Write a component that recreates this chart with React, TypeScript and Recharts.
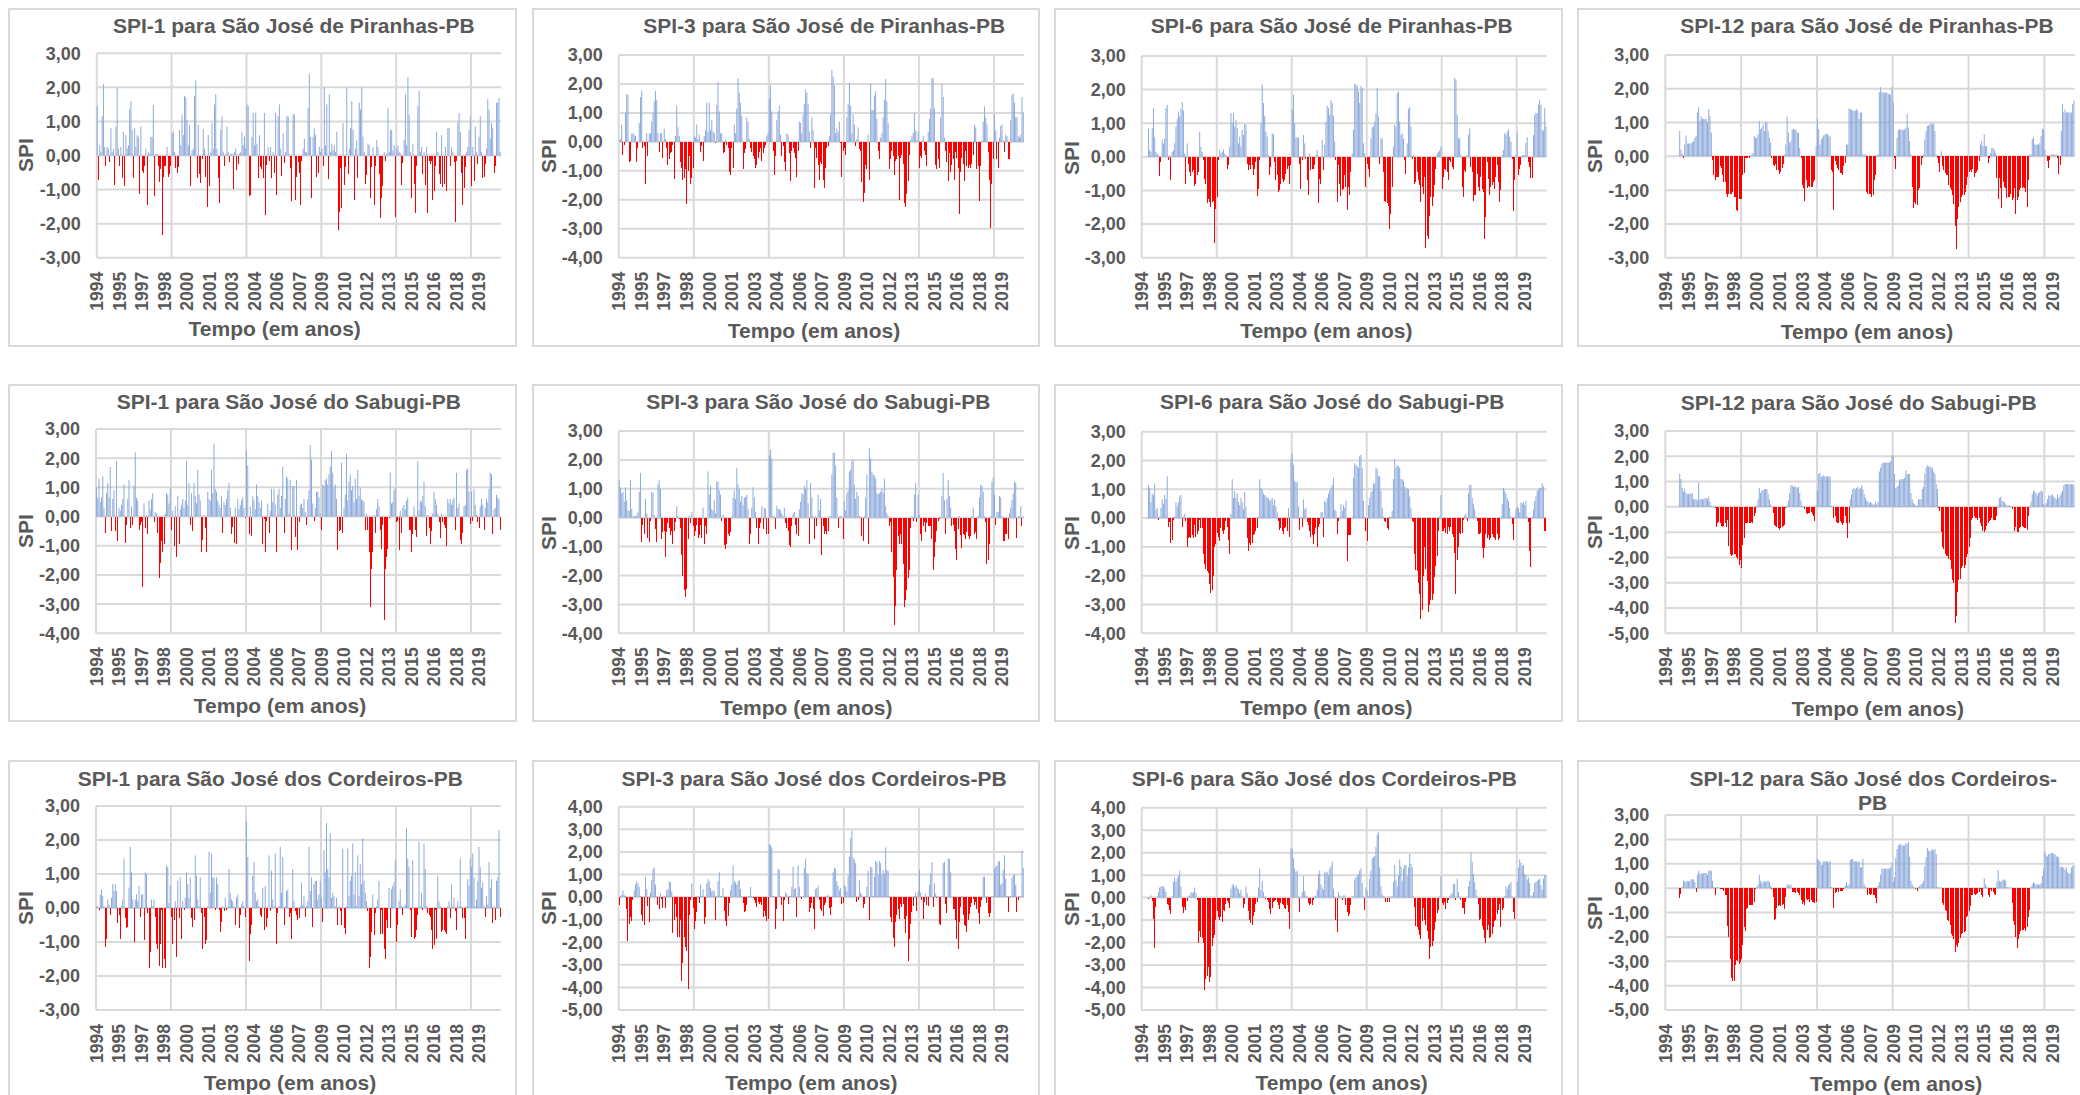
import { BarChart, Bar, XAxis, YAxis, CartesianGrid } from "recharts";

// Monthly SPI values, one row per year (Jan..Dec), 1994-2020
const years = [1994, 1995, 1996, 1997, 1998, 1999, 2000, 2001, 2002, 2003, 2004, 2005, 2006, 2007, 2008, 2009, 2010, 2011, 2012, 2013, 2014, 2015, 2016, 2017, 2018, 2019, 2020];

const spi1Piranhas = [
  [1.45,-0.72,0.3,0.1,1.15,2.1,0.25,-0.32,0.25,0.2,-0.2,0.8],
  [0.1,0.2,-0.88,0.85,1.98,0.2,-0.32,0.25,-0.65,0.7,-0.9,0.6],
  [0.2,0.3,1.35,1.6,0.75,-0.65,0.8,0.25,0.6,0.55,-1.12,0.85],
  [-0.45,-0.52,-0.3,0.2,-1.45,0.1,0.05,0.55,0.55,1.48,-1.18,0.05],
  [0.05,-0.32,-0.78,-0.4,-2.33,-0.62,-0.3,-0.32,0.25,-0.62,-0.55,-0.32],
  [0.65,0.7,0.1,-0.38,-0.5,-0.35,0.75,0.3,1.2,0.6,1.75,1.7],
  [1.05,0.3,0.9,-0.9,0.15,0.2,1.75,2.2,-0.65,0.9,-0.55,-0.8],
  [-0.1,0.78,0.2,-0.62,-1.5,0.6,-0.9,0.1,0.95,0.2,1.5,1.8],
  [0.2,-0.65,-1.4,0.75,1.15,0.1,-0.32,0.05,0.85,0.1,-0.2,0.05],
  [0.05,-0.98,0.1,0.2,-0.42,-0.25,0.05,0.1,0.7,0.3,0.55,0.2],
  [1.5,1.45,-1.2,-1.15,0.55,1.25,0.3,1.25,0.35,-0.65,0.6,-0.35],
  [-0.4,-0.65,1.25,-1.75,-0.28,0.25,-0.15,0.25,-0.65,0.1,-0.52,1.25],
  [-1.15,1.15,1.5,0.2,-0.6,0.65,-0.22,0.1,1.15,1.15,0.05,-0.38],
  [-1.35,1.2,1.22,-1.3,-0.62,-0.2,-0.5,-1.45,-0.15,0.2,0.5,0.1],
  [0.1,1.4,2.4,0.55,-1.25,0.55,0.8,0.6,-0.62,-0.52,0.25,0.1],
  [0.2,-0.3,2.0,0.3,1.5,-0.7,1.8,0.1,0.35,0.15,0.3,0.1],
  [0.7,-2.18,-1.65,-0.38,-1.55,0.95,-0.88,-0.35,2.0,-0.55,0.2,0.8],
  [1.6,0.75,-1.3,0.2,0.45,-0.65,1.55,1.35,2.0,0.55,0.1,-0.85],
  [-0.58,0.35,0.3,-1.25,-0.35,0.25,-1.45,-0.32,0.45,0.25,-0.55,-1.82],
  [-1.25,-0.9,0.1,-0.15,0.05,1.4,0.1,0.75,0.75,0.15,0.3,-1.8],
  [0.2,0.3,0.1,0.05,-0.88,-0.22,0.45,1.8,0.3,2.3,1.2,0.1],
  [-1.25,0.35,-0.85,-1.68,-0.32,1.45,1.9,0.1,0.25,-0.55,0.1,-0.88],
  [0.25,-1.7,-0.15,-0.25,-0.15,-1.32,-1.05,-0.32,0.7,0.1,-0.55,-0.85],
  [0.6,-0.92,-0.85,0.25,-1.05,0.8,0.8,-0.32,0.25,0.1,-0.2,-1.95],
  [-0.15,0.95,1.25,0.7,-0.5,-1.45,-0.95,-0.35,0.1,0.25,0.75,1.15],
  [-0.9,0.25,-0.75,0.85,0.1,-0.25,0.55,1.15,0.1,-0.65,-0.62,-0.25],
  [0.2,1.65,1.35,0.5,0.95,0.8,-0.5,-0.3,1.55,1.55,1.7,0.1],
];

const spi3Piranhas = [
  [0.05,0.1,0.6,-0.45,-0.1,1.0,1.65,1.62,-0.7,-0.65,0.28,0.3],
  [0.25,0.2,-0.7,-0.2,0.65,1.55,1.78,-0.2,-0.15,-1.45,0.3,-0.48],
  [0.28,0.3,0.7,1.0,1.4,1.75,1.45,0.3,-0.35,0.3,0.3,-0.55],
  [0.45,0.1,-0.2,-0.8,-0.6,-0.4,-0.35,-0.1,-1.28,0.2,1.25,0.5],
  [0.2,-0.7,-0.9,-1.3,-1.25,-0.95,-2.15,-1.0,-0.5,-1.45,-1.25,-0.9],
  [0.2,0.15,0.6,0.1,0.25,-0.35,-0.15,-0.65,0.2,0.4,1.35,0.35],
  [1.35,0.4,0.75,0.35,0.3,-0.05,1.28,2.07,1.05,0.3,0.3,-0.4],
  [-0.35,0.08,-0.1,-0.2,-1.05,-1.15,-0.2,-0.9,0.6,0.3,1.15,2.2],
  [1.7,1.35,0.9,-0.95,-0.4,-0.25,0.85,0.7,0.1,-0.2,-0.35,-0.5],
  [-0.6,-0.9,-0.8,-0.55,-0.35,-0.2,-0.65,-0.4,-0.2,-0.1,0.2,0.3],
  [1.5,1.95,1.05,-0.3,-1.15,-0.5,0.75,1.05,1.25,0.25,-0.5,-0.15],
  [-0.7,-1.02,0.3,0.25,-0.4,-1.35,-0.3,-0.2,-0.4,-0.55,-1.22,-0.3],
  [0.7,0.65,0.3,0.95,1.3,1.8,1.7,1.3,0.35,-0.2,0.85,0.4],
  [-1.6,-0.2,-0.55,-0.8,-1.3,-0.7,-0.75,-1.3,-1.6,-0.9,-0.2,-0.15],
  [0.2,0.95,2.48,2.25,1.95,0.3,0.45,0.35,0.7,-0.05,-1.22,-0.3],
  [-0.2,-0.45,0.85,1.3,2.05,1.25,0.3,0.95,0.6,-0.15,0.1,0.5],
  [-0.25,-0.3,-1.4,-2.07,-1.75,-0.8,-0.95,0.25,-1.3,2.02,1.1,1.1],
  [1.6,1.75,0.8,-0.3,-0.6,0.15,0.3,0.85,1.45,2.17,1.4,0.65],
  [-0.95,-0.6,-0.3,-0.5,-1.15,-0.65,-0.6,-0.5,-2.0,-0.55,-0.45,-0.75],
  [-2.1,-2.25,-1.8,-1.35,-0.45,0.05,0.2,0.3,1.0,0.4,0.05,0.35],
  [-0.9,-0.5,-0.55,0.2,-0.3,-0.45,-0.85,0.35,0.8,1.15,2.2,2.2],
  [1.15,-0.8,-0.95,-0.6,-0.9,0.85,2.0,1.55,0.15,-0.3,-0.7,-1.35],
  [-0.4,-1.05,-0.8,-0.6,-1.3,-0.35,-0.55,-0.9,-2.48,-1.05,-0.55,-0.75],
  [-1.35,-0.3,-0.85,-0.9,-0.8,-0.9,-0.75,-0.45,0.6,0.5,-0.95,-0.85],
  [-2.03,-0.85,0.05,0.7,1.22,0.85,0.6,-0.35,-1.3,-2.97,-1.45,-0.6],
  [0.95,0.4,-0.6,-0.9,0.15,0.55,0.6,0.05,-0.35,0.25,0.2,-0.6],
  [-0.6,0.75,1.62,1.68,1.35,0.85,0.85,0.2,0.15,0.25,1.55,1.0],
];

const spi6Piranhas = [
  [0,0,0,0,0,0.83,0.2,0.15,0.85,1.45,0.6,0.15],
  [0.1,0.05,-0.57,-0.15,0.5,0.4,0.55,1.45,1.55,-0.1,0.05,-0.68],
  [0.15,0.2,0.4,0.9,1.12,1.35,1.2,1.42,1.63,1.38,0.1,-0.8],
  [0.4,-0.2,-0.45,-0.58,-0.45,-0.4,-0.88,-0.8,-0.55,-0.45,0.75,0.3],
  [0.15,-0.1,-0.65,-0.8,-1.37,-1.25,-1.35,-1.5,-1.35,-1.3,-2.57,-1.55],
  [-1.2,-0.1,0.2,0.1,0.15,0.22,0.1,0.05,-0.35,-0.25,0.3,1.3],
  [1.0,1.3,0.9,1.1,0.85,0.4,0.6,0.3,0.8,0.65,0.98,0.95],
  [-0.2,-0.4,-0.25,-0.35,-0.25,-0.55,-0.35,-0.15,-1.15,-0.95,-0.1,1.0],
  [2.15,1.6,1.22,0.75,0.6,0.05,-0.55,-0.3,0.7,0.68,-0.15,-0.7],
  [-0.55,-1.05,-1.0,-0.8,-0.65,-0.75,-0.7,-0.5,-0.35,-0.28,-0.8,-0.25],
  [1.4,1.85,1.0,0.58,0.58,0.57,-0.2,-0.95,-0.1,0.65,0.4,-0.05],
  [-0.68,-1.12,0.1,-0.4,-0.35,-0.35,-0.25,0.05,0.2,-1.37,-0.65,-0.8],
  [0.5,-0.4,0.35,1.05,1.52,1.45,1.25,1.68,1.6,1.22,0.45,-0.1],
  [-1.35,-0.25,-0.8,-1.15,-1.0,-0.95,-0.55,-0.9,-1.57,-0.9,-1.12,-0.45],
  [0.1,0.8,2.17,2.15,2.1,1.95,1.6,2.1,2.05,0.4,0.1,-0.9],
  [-0.2,-0.35,-0.6,0.55,0.88,0.9,1.05,1.3,2.05,1.2,-0.2,0.55],
  [0.55,-0.45,-1.3,-1.35,-1.38,-1.45,-2.15,-1.7,-0.9,0.3,0.95,0.9],
  [1.9,1.95,1.05,0.65,0.7,0.55,-0.1,-0.5,0.4,1.42,1.48,0.9],
  [-0.05,0.05,-0.8,-0.75,-0.45,-0.7,-0.85,-1.35,-0.9,-1.1,-0.6,-2.7],
  [-2.35,-2.45,-1.75,-1.2,-1.45,-1.2,-0.85,-0.35,0.1,0.15,0.2,0.3],
  [-0.95,-0.6,-0.35,-0.4,-0.45,-0.68,-0.1,-0.15,-0.3,-0.35,2.35,2.3],
  [1.25,0.55,0.55,0.05,-0.9,-1.2,-0.4,-0.45,0.05,0.65,0.85,-0.3],
  [-0.45,-1.3,-1.12,-1.12,-0.5,-0.9,-1.03,-0.6,-0.95,-1.05,-2.43,-1.8],
  [-0.15,-0.65,-1.12,-0.9,-0.85,-0.75,-0.95,-0.6,-0.25,-0.75,-1.35,-1.0],
  [0.05,0.2,0.7,0.65,0.75,0.82,0.6,0.45,-0.05,-1.6,-0.68,0.05],
  [0.72,-0.55,-0.35,-0.25,0.05,0.05,0.05,0.42,0.58,-0.15,-0.3,-0.62],
  [-0.62,0.65,1.25,1.3,1.3,1.55,1.7,1.55,0.8,0.78,1.45,0.9],
];

const spi12Piranhas = [
  [0,0,0,0,0,0,0,0,0,0,0,0.75],
  [0.2,0.08,-0.05,0.35,0.62,0.38,0.38,0.38,0.38,0.42,0.45,0.55],
  [0.6,1.3,1.45,1.05,1.18,1.1,1.12,1.1,1.1,1.0,1.4,1.18],
  [0.7,-0.1,-0.55,-0.7,-0.6,-0.62,-0.62,-0.3,-0.35,-0.55,-0.75,-0.75],
  [-1.1,-1.2,-1.12,-1.1,-1.12,-1.05,-1.2,-1.2,-1.58,-1.62,-1.25,-1.25],
  [-1.25,-0.55,-0.5,-0.05,-0.05,-0.05,-0.05,0.02,0.05,0.1,0.6,0.55],
  [0.55,0.65,1.05,0.8,0.85,0.95,0.75,1.02,1.0,0.75,0.55,0.4],
  [-0.05,-0.25,-0.3,-0.22,-0.4,-0.4,-0.52,-0.45,-0.35,-0.22,0.05,0.35],
  [1.18,0.7,0.4,0.45,0.8,0.8,0.8,0.78,0.7,0.7,0.25,-0.05],
  [-0.85,-0.95,-1.32,-0.7,-0.95,-0.88,-0.92,-0.92,-0.92,-0.75,-0.7,0.3],
  [1.1,0.8,0.35,0.5,0.55,0.62,0.65,0.68,0.65,0.62,0.58,-0.4],
  [-0.45,-1.58,-0.15,-0.25,-0.35,-0.4,-0.5,-0.48,-0.55,-0.3,-0.2,0.35],
  [0.35,1.42,1.4,1.38,1.35,1.35,1.35,1.4,1.35,1.1,1.3,1.3],
  [0.05,0.05,0.05,-1.05,-1.1,-1.12,-1.1,-1.2,-1.15,-0.7,-0.55,0.05],
  [0.05,1.9,2.05,1.9,1.9,1.88,1.9,1.88,1.85,1.85,1.82,2.05],
  [1.6,-0.05,-0.38,0.55,0.78,0.8,0.8,0.78,0.78,0.8,0.85,1.25],
  [0.85,0.45,0.05,-0.9,-1.52,-1.35,-1.4,-1.45,-1.0,-0.95,-0.25,-0.05],
  [0.05,0.5,0.75,0.9,0.92,0.95,0.98,0.95,0.98,0.75,0.05,-0.05],
  [-0.2,-0.45,0.15,-0.3,-0.4,-0.5,-0.55,-0.55,-0.85,-0.95,-1.0,-1.15],
  [-1.4,-2.05,-2.75,-1.85,-1.5,-1.35,-1.2,-1.15,-1.15,-1.05,-0.85,-0.6],
  [-0.45,-0.4,-0.45,-0.38,-0.6,-0.5,-0.45,-0.4,-0.15,0.35,0.45,0.3],
  [0.65,0.3,0.3,-0.2,-0.05,0.1,0.25,0.25,0.2,0.1,-0.65,-1.25],
  [-0.65,-0.95,-1.52,-0.75,-0.92,-0.95,-1.22,-1.2,-1.2,-1.12,-1.28,-1.22],
  [-0.95,-1.7,-1.3,-1.2,-1.0,-0.95,-0.95,-0.9,-0.95,-1.05,-1.5,-0.7],
  [0.05,0.05,0.52,0.55,0.35,0.35,0.35,0.35,0.4,0.6,0.82,0.78],
  [0.2,0.05,-0.15,-0.35,-0.1,0.05,0.05,0.05,0.05,0.05,-0.05,-0.52],
  [-0.25,0.75,1.55,1.3,1.38,1.3,1.3,1.3,1.3,1.3,1.55,1.65],
];

const spi1Sabugi = [
  [1.0,0.65,1.3,0.5,0.65,1.38,0.3,-0.55,0.8,1.15,0.65,1.7],
  [-0.5,0.6,0.9,-0.5,1.9,-0.85,0.3,0.2,0.4,0.6,1.1,-0.9],
  [-0.3,0.6,1.25,-0.4,0.35,-0.3,1.05,2.2,0.65,0.55,-0.45,-0.3],
  [-0.2,-2.4,0.45,-0.4,0.05,-0.6,0.55,0.25,0.6,0.8,-0.2,0.15],
  [0.1,-0.55,-2.1,-1.6,-0.85,-1.2,-0.95,0.1,0.8,0.75,0.45,1.0],
  [-0.45,0.2,-1.0,0.35,-1.4,0.7,-0.95,0.25,0.4,0.6,0.3,0.55],
  [1.9,0.4,1.15,-0.3,0.8,-0.5,1.15,0.7,0.45,1.6,0.75,0.55],
  [-1.2,-0.8,0.05,-0.4,-1.2,0.85,0.6,0.55,1.6,0.8,2.5,0.95],
  [0.85,0.55,0.4,0.3,0.7,-0.55,0.5,0.4,0.6,0.9,1.15,0.3],
  [-0.6,-0.35,-0.9,0.3,-0.95,0.6,0.25,0.4,0.55,0.65,0.3,-0.05],
  [2.25,1.75,-0.6,0.35,-0.65,0.7,0.55,0.25,1.1,0.7,0.5,0.3],
  [0.55,-0.95,-0.1,-1.2,-0.15,0.45,-0.55,0.2,0.95,0.5,0.95,0.4],
  [-1.2,0.75,0.95,0.3,0.7,1.7,-0.55,0.6,1.38,1.3,0.1,1.25],
  [-1.15,1.05,1.05,-0.7,1.25,-1.15,-0.2,0.4,0.45,0.3,0.6,0.15],
  [-0.3,0.6,0.9,2.45,1.95,0.45,-0.15,0.3,0.85,0.85,0.65,0.1],
  [-0.45,1.1,1.05,1.25,1.3,1.1,1.45,1.7,2.25,1.5,1.0,1.1],
  [0.6,-1.15,-0.5,-0.45,1.85,-0.55,0.3,0.75,2.15,0.55,1.2,1.45],
  [0.9,1.05,0.5,1.3,0.6,1.6,0.7,1.0,0.6,0.55,0.5,-0.45],
  [0.1,-0.45,-1.2,-3.1,-1.8,-1.2,0.05,-0.55,0.25,0.6,0.35,-0.45],
  [-1.1,-0.3,-3.55,-1.8,-1.4,-1.1,-0.05,1.5,0.45,0.5,0.9,1.0],
  [-0.2,-0.15,-1.15,0.2,-0.55,0.3,0.4,0.25,0.55,0.65,-0.45,-0.45],
  [-1.2,-0.6,0.35,-0.45,-0.7,1.9,0.2,0.55,0.5,0.7,1.2,0.35],
  [-0.65,0.05,-0.4,-0.95,-0.5,0.1,0.85,0.6,0.4,0.1,-0.2,-0.75],
  [0.1,-0.2,-0.3,-0.4,-1.0,0.6,0.45,0.6,0.4,0.55,0.65,-0.45],
  [1.5,0.3,0.45,-0.8,-0.95,-0.55,0.35,0.4,1.6,1.65,0.85,-0.25],
  [0.85,-0.15,0.95,0.4,0.05,-0.2,-0.4,0.35,0.6,0.4,-0.45,0.3],
  [0.6,0.5,0.95,1.5,1.45,-0.6,0.25,0.3,0.75,0.65,0.6,-0.45],
];

const spi3Sabugi = [
  [1.3,1.05,0.85,0.9,0.55,1.05,0.6,0.25,0.25,1.3,0.3,0.05],
  [0.05,0.05,0.1,0.2,0.9,1.55,-0.85,-0.25,-0.55,0.65,0.15,-0.7],
  [-0.85,-0.1,0.9,0.85,0.1,-0.4,-0.85,1.15,1.3,1.0,-0.75,-0.5],
  [-0.45,-1.35,-0.5,-0.2,-0.35,-0.6,-0.45,-0.9,-0.45,-0.15,0.4,0.05],
  [-0.05,-0.35,-1.3,-2.0,-2.5,-2.75,-2.45,-0.75,0.05,-0.2,0.2,-0.3],
  [-0.65,-0.45,-0.25,-0.7,-0.6,-0.25,-0.7,0.35,-0.9,-0.3,-0.55,1.6],
  [0.8,1.1,0.3,0.25,0.6,0.15,1.25,1.25,0.95,0.8,-0.1,0.1],
  [-0.95,-1.1,-0.9,-0.55,-0.65,-0.5,0.05,0.7,0.95,0.65,1.72,1.15],
  [1.0,0.55,0.75,0.45,0.7,0.7,0.8,0.3,-0.9,-0.55,0.35,1.05],
  [0.7,0.2,-0.35,-0.9,-0.35,-0.2,0.4,-0.4,0.35,0.3,-0.55,-0.55],
  [2.15,2.35,2.05,0.05,0.05,-0.4,0.4,0.3,0.3,0.25,0.15,0.05],
  [0.35,-0.2,-0.35,-0.45,-0.95,-1.0,-0.3,0.15,0.2,-0.25,-0.55,-0.65],
  [0.3,0.55,0.85,0.8,1.1,1.0,1.3,0.5,-0.9,1.2,0.7,0.05],
  [-0.75,0.05,-0.3,0.8,0.25,0.65,-1.3,-0.3,-0.55,-0.45,-0.55,-0.45],
  [0.05,0.05,1.5,2.25,2.25,1.8,0.7,-0.35,0.05,0.05,0.05,-0.75],
  [0.55,0.25,0.85,0.95,1.6,1.65,1.95,2.0,1.15,0.65,0.9,0.75],
  [0.05,0.05,-0.65,-0.8,0.05,0.7,1.5,-0.9,2.4,2.05,1.6,1.5],
  [1.45,1.35,0.85,0.8,0.85,0.9,1.0,0.85,1.35,0.4,0.15,0.05],
  [-0.3,-0.15,-1.2,-2.05,-3.7,-3.05,-1.8,-0.65,-0.9,-0.55,-0.9,-1.6],
  [-3.1,-2.85,-2.5,-2.1,-1.8,-0.35,0.05,-0.1,0.8,1.2,-0.15,0.8],
  [0.1,-0.55,-0.8,-0.3,-0.15,-0.5,-0.2,-0.3,-0.3,-0.3,-0.75,-1.8],
  [-1.35,-0.85,-0.45,-0.1,-0.05,0.05,0.75,1.55,0.6,-0.55,0.65,1.3],
  [0.75,0.35,-0.3,-0.25,-0.45,-1.1,-1.45,-0.4,0.05,-0.6,-1.05,-0.55],
  [-0.6,-0.75,-0.5,-0.65,-0.75,-0.65,0.05,0.35,-0.55,-0.5,-0.75,0.05],
  [0.7,1.15,1.1,0.9,0.05,-0.15,-1.6,-1.45,-0.9,0.05,1.25,1.4],
  [0.8,-0.25,0.2,0.2,0.75,0.7,0.05,-0.8,-0.8,-0.55,-0.55,-0.75],
  [0.15,0.35,0.6,0.85,1.25,1.2,-0.7,0.05,0.05,0.4,-0.3,0.05],
];

const spi6Sabugi = [
  [0,0,0,0,0,1.15,1.05,0.55,0.85,0.8,1.2,0.3],
  [0.35,-0.07,0.05,0.35,0.65,0.5,0.8,0.65,1.45,-0.3,-0.15,-0.85],
  [-0.75,-0.05,0.05,0.55,0.4,0.55,0.75,0.8,-0.3,0.05,0.15,-0.1],
  [-1.0,-0.7,-0.65,-0.7,-0.6,-0.7,-0.25,-0.65,-0.55,-0.45,-0.05,-0.35],
  [-0.35,-1.25,-1.6,-1.75,-1.85,-1.9,-2.3,-2.6,-2.5,-2.0,-1.0,-0.9],
  [-0.5,-0.65,-0.8,-0.35,-0.45,-0.55,-0.4,-0.1,-0.3,-0.75,-1.25,0.15],
  [1.35,0.7,0.95,0.7,0.85,0.55,0.45,0.7,0.55,0.3,0.9,0.4],
  [-0.7,-1.15,-0.85,-0.95,-0.85,-0.6,-0.55,-0.45,-0.35,0.05,1.35,1.05],
  [1.0,0.85,0.8,0.75,0.7,0.7,0.6,0.65,0.7,0.45,0.65,0.4],
  [0.2,-0.1,-0.4,-0.35,-0.45,-0.55,-0.35,-0.3,-0.45,0.35,-0.65,2.05],
  [2.25,1.85,1.3,1.25,1.25,0.4,-0.4,0.05,-0.3,0.65,0.3,0.35],
  [-0.15,-0.25,-0.45,-0.65,-0.6,-0.9,-0.55,-0.35,-1.0,-0.3,-0.2,0.2],
  [0.2,-0.65,0.6,0.55,0.7,0.85,0.95,1.05,1.15,1.4,0.3,0.25],
  [-0.55,-0.1,0.05,0.5,0.25,0.45,0.35,0.6,-1.5,-0.6,-0.6,-0.6],
  [0.05,1.4,1.9,1.85,1.8,1.75,2.15,2.2,1.75,0.6,0.05,-0.45],
  [-0.8,0.45,0.7,0.9,0.95,1.2,1.2,1.75,1.7,1.45,1.45,0.95],
  [0.35,0.05,-0.1,-0.15,-0.35,-0.4,0.05,0.05,0.25,1.35,2.05,1.75],
  [1.85,1.8,1.75,1.35,1.35,1.3,1.1,1.0,1.05,1.0,0.75,0.35],
  [-0.1,-0.15,-1.25,-1.8,-1.85,-2.25,-2.65,-3.5,-3.2,-2.0,-1.0,-1.75],
  [-2.2,-3.25,-3.0,-2.85,-2.85,-2.65,-2.05,-1.65,-1.3,-0.45,0.05,0.8],
  [-0.45,-0.45,-0.35,-0.5,-0.55,-0.3,-0.45,-0.3,-0.55,-0.65,-1.2,-2.65],
  [-1.45,-1.0,-0.5,-0.55,-0.5,-0.05,0.1,0.15,-0.1,0.85,1.15,1.15],
  [0.7,0.5,0.3,0.05,-0.1,-0.55,-0.55,-0.5,-1.05,-1.4,-1.05,-0.55],
  [-0.7,-0.6,-0.75,-0.7,-0.55,-0.65,-0.7,-0.75,-0.55,-0.75,-0.7,0.05],
  [0.5,1.05,0.95,0.85,0.7,0.6,0.35,0.05,-0.2,-0.75,0.05,0.3],
  [0.4,0.35,0.2,0.55,0.5,0.55,0.45,0.6,0.05,-0.15,-1.15,-1.7],
  [0.05,0.3,0.6,0.75,0.95,1.0,1.05,1.05,1.2,1.1,-0.45,-0.45],
];

const spi12Sabugi = [
  [0,0,0,0,0,0,0,0,0,0,0,1.3],
  [1.1,0.75,0.6,0.7,0.55,0.5,0.5,0.55,0.5,0.55,0.3,0.3],
  [0.3,0.25,0.95,0.3,0.3,0.3,0.3,0.35,0.35,0.3,0.4,0.2],
  [0.05,0.02,0.02,-0.05,-0.8,-0.65,-0.6,-0.65,-0.75,-0.8,-0.75,-0.65],
  [-0.8,-0.5,-1.55,-1.85,-1.95,-1.9,-1.85,-1.85,-2.0,-2.05,-2.3,-2.1],
  [-2.4,-1.5,-1.25,-0.65,-0.65,-0.65,-0.65,-0.65,-0.6,-0.65,-0.35,-0.25],
  [0.05,0.3,0.75,0.55,0.65,0.65,0.7,0.7,0.7,0.5,0.3,0.1],
  [0.02,-0.25,-0.7,-0.75,-0.8,-0.85,-0.9,-0.85,-0.8,-0.75,-0.7,-0.05],
  [0.05,0.25,0.55,0.85,0.85,0.8,0.8,0.8,0.75,0.8,0.55,0.25],
  [0.05,0.02,-0.1,-0.25,-0.3,-0.25,-0.25,-0.2,-0.3,-0.35,-0.55,0.05],
  [0.65,1.3,1.35,1.2,1.2,1.25,1.2,1.2,1.2,1.2,1.2,0.05],
  [0.02,-0.45,-0.35,-0.6,-0.65,-0.65,-0.55,-0.65,-0.7,-0.65,-0.35,-0.65],
  [-1.25,-0.65,0.3,0.5,0.7,0.75,0.7,0.75,0.8,0.7,0.75,0.85],
  [0.7,0.5,0.35,0.25,0.2,0.15,0.2,0.15,0.1,0.08,0.2,0.1],
  [0.2,1.4,1.55,1.7,1.75,1.75,1.75,1.75,1.75,1.75,1.8,2.05],
  [2.0,1.3,0.75,0.8,0.85,1.05,1.1,1.1,1.1,1.15,1.45,1.3],
  [1.3,1.3,0.55,0.3,0.15,0.1,0.05,0.05,0.3,0.3,0.3,0.7],
  [0.8,1.3,1.55,1.65,1.6,1.6,1.55,1.55,1.4,1.3,0.9,0.7],
  [-0.05,-0.15,-1.0,-1.6,-1.65,-1.85,-1.95,-1.95,-2.05,-2.1,-2.45,-2.9],
  [-3.0,-4.6,-4.3,-3.35,-2.9,-2.85,-2.4,-2.35,-2.4,-2.3,-2.0,-1.85],
  [-1.6,-1.25,-0.5,-0.45,-0.35,-0.45,-0.45,-0.5,-0.45,-0.65,-0.75,-0.95],
  [-1.0,-0.9,-0.75,-0.65,-0.55,-0.5,-0.45,-0.5,-0.5,-0.5,-0.35,0.05],
  [0.35,0.4,0.25,0.2,0.2,0.1,0.05,0.05,0.05,0.05,-0.1,0.02],
  [-0.95,-0.8,-1.0,-1.0,-0.85,-0.8,-0.75,-0.8,-0.85,-0.85,-0.9,-0.35],
  [0.02,0.2,0.5,0.65,0.6,0.55,0.45,0.55,0.6,0.65,0.6,0.1],
  [0.05,0.15,0.3,0.45,0.45,0.45,0.5,0.4,0.35,0.3,0.5,0.35],
  [0.45,0.55,0.65,0.85,0.9,0.9,0.9,0.9,0.9,0.9,0.9,0.85],
];

const spi1Cordeiros = [
  [0.05,0.05,-0.07,0.4,0.55,0.35,0.05,-1.15,-0.9,0.25,0.1,-0.2],
  [0.3,0.7,0.5,0.7,0.5,-0.45,-0.2,-0.9,0.05,0.25,1.45,-0.3],
  [-0.6,-0.55,0.6,1.8,1.05,0.25,-1.0,0.25,0.4,0.2,0.65,-0.25],
  [0.4,0.4,-0.95,1.05,1.0,-0.15,-1.75,-1.3,0.25,0.05,0.25,-0.25],
  [-1.05,-1.2,-1.7,-1.05,-0.05,-1.75,-1.5,-1.75,1.25,1.2,0.15,0.65],
  [-0.25,-1.05,-0.35,0.2,-1.45,0.8,-0.3,0.9,-0.9,0.2,-0.05,0.3],
  [1.05,0.7,0.3,0.9,-0.3,-0.55,-0.35,1.55,0.95,0.25,0.05,0.9],
  [-0.15,-1.2,-0.25,-1.05,-0.95,0.05,1.65,0.45,1.6,0.9,0.9,-0.05],
  [0.9,0.7,-0.05,-0.7,-0.4,0.05,-0.1,0.3,-0.05,0.05,1.15,0.45],
  [0.25,0.2,0.05,-0.5,0.3,0.4,-0.6,-0.2,0.1,0.2,0.05,-0.25],
  [2.55,1.5,-1.55,-0.75,-0.5,0.95,1.35,0.45,0.2,0.25,0.05,-0.2],
  [-0.25,0.6,-0.65,0.65,-0.55,-0.3,1.55,-0.1,1.1,0.25,0.05,1.6],
  [-1.05,-0.15,0.05,1.8,0.45,1.5,-0.5,0.05,0.5,0.55,-0.25,-0.15],
  [-0.9,1.15,0.2,-0.1,-0.2,-0.35,-0.3,0.05,0.75,0.1,0.35,-0.25],
  [0.05,0.2,1.8,0.5,0.9,-0.55,0.7,0.8,0.8,0.25,0.4,0.8],
  [0.3,-0.4,1.7,1.05,2.5,1.15,0.9,2.2,0.3,0.45,0.35,0.05],
  [0.3,-0.5,0.05,-0.1,-0.5,1.75,-0.6,-0.75,0.05,1.75,0.35,0.8],
  [0.95,1.9,0.4,1.05,0.05,1.55,0.35,1.3,0.7,2.05,0.8,0.45],
  [0.2,-0.1,-1.75,-1.45,-0.7,0.4,-0.8,-0.15,0.05,0.25,0.8,-0.75],
  [-0.05,-0.75,-1.2,-1.5,-0.35,-0.6,0.6,-0.6,0.55,0.65,0.75,1.4],
  [-1.0,-0.5,0.2,0.55,0.05,-0.2,0.05,0.1,2.35,1.45,1.2,-0.05],
  [-0.85,1.4,-0.9,-0.85,-0.65,-0.2,1.95,0.05,0.45,-0.05,1.9,1.15],
  [0.05,-0.15,-0.2,-0.25,-0.65,-1.2,-1.1,-0.05,-0.9,0.95,0.2,0.05],
  [-0.7,-0.65,-0.65,-0.7,-0.75,0.05,0.2,-0.3,0.7,0.05,0.3,-0.1],
  [-0.65,0.2,0.05,1.45,0.05,-0.3,-0.3,-0.9,0.05,0.85,0.65,1.45],
  [1.2,1.6,0.9,0.05,0.25,0.8,1.8,1.2,0.6,0.75,0.05,-0.25],
  [0.35,0.1,1.35,0.6,0.85,-0.45,0.05,-0.35,0.8,0.9,2.3,-0.25],
];

const spi3Cordeiros = [
  [-0.35,0.05,0.1,0.3,0.1,0.05,-0.55,-1.95,-1.2,-0.9,-1.05,-0.15],
  [0.3,0.55,0.7,0.6,0.45,0.05,-0.8,-1.05,-1.25,0.9,0.35,-0.4],
  [-1.1,0.2,0.75,1.25,1.3,0.55,0.05,-0.35,-0.55,0.15,-0.1,-0.5],
  [0.05,-0.5,0.3,0.35,0.7,0.65,0.25,-1.6,-1.0,-0.3,-0.9,-1.75],
  [-1.75,-1.0,-3.7,-2.9,-1.75,-2.2,-2.4,-4.05,-0.8,-0.15,0.6,-0.5],
  [-1.4,-1.05,-0.65,0.05,-0.25,0.55,0.05,0.35,-1.2,-0.9,0.6,0.8],
  [0.7,0.4,0.25,0.3,0.25,-1.0,0.05,0.7,1.1,0.05,0.05,0.4],
  [-0.6,-1.05,-1.3,-0.85,-0.25,0.3,0.55,1.4,0.7,0.65,0.55,0.7],
  [0.75,0.35,0.05,-0.25,-0.65,-0.6,-0.35,0.05,0.05,0.45,0.05,-0.05],
  [-0.15,-0.25,-0.45,-0.2,-0.3,-0.2,-0.35,-0.9,-0.6,-0.85,-1.05,-0.95],
  [2.35,2.3,2.2,0.05,0.05,-1.4,-0.55,1.25,1.2,0.05,-0.35,-1.05],
  [-0.15,0.2,0.15,-0.3,0.05,0.05,0.45,1.35,0.35,0.4,-0.9,1.4],
  [0.45,0.05,-0.1,0.05,1.3,1.7,1.05,1.0,-0.65,-0.5,-0.25,-0.55],
  [-1.4,0.35,0.4,0.5,-0.15,-0.55,-0.6,-0.85,-0.35,-0.25,0.05,0.1],
  [-0.5,-0.8,-0.45,1.1,1.3,1.25,0.7,0.5,0.3,0.4,-0.3,-0.25],
  [0.55,0.45,0.25,0.95,1.8,2.6,2.95,1.75,1.65,1.5,-0.2,-0.15],
  [0.75,0.2,0.1,-0.5,-0.3,0.05,0.45,1.15,-1.0,1.35,1.3,0.05],
  [0.9,1.6,1.55,1.0,1.6,1.5,1.0,1.2,1.05,2.2,1.2,1.15],
  [0.05,-0.9,-1.1,-1.8,-2.2,-1.1,-0.8,-0.55,-0.95,-0.3,-0.45,-0.3],
  [-0.95,-1.6,-0.85,-2.85,-1.85,-1.2,-0.65,-0.4,0.05,0.2,-0.6,0.25],
  [1.2,0.2,-0.15,-0.95,-0.2,0.15,-0.35,-0.4,0.55,1.05,1.55,-0.45],
  [0.6,0.15,-0.05,0.05,-1.2,-1.25,0.05,1.5,1.55,-0.3,-0.7,1.7],
  [1.7,1.1,0.05,-0.55,-0.55,-1.0,-1.85,-2.3,-1.1,-0.45,0.05,-0.8],
  [-1.25,-1.3,-1.55,-1.0,-0.75,-0.45,-0.25,-0.1,-0.35,-0.2,-0.55,-0.7],
  [-1.2,-0.45,-0.15,0.9,0.9,0.05,-0.25,-0.7,-0.9,-0.7,0.05,0.05],
  [1.25,1.35,1.4,1.55,1.6,0.55,0.6,1.2,1.85,0.8,0.05,-0.65],
  [0.05,0.05,0.85,0.95,1.0,0.55,-0.65,-0.15,0.05,0.05,2.05,1.3],
];

const spi6Cordeiros = [
  [0,0,0,0,0,-0.07,0.02,0.1,-0.15,-0.95,-2.25,-0.4],
  [0.05,0.25,0.45,0.5,0.5,0.5,0.4,0.25,-0.3,-0.35,-0.55,-0.75],
  [0.05,0.7,0.9,0.7,0.85,0.95,1.2,0.5,-0.4,-0.7,-0.4,-0.55],
  [-0.15,0.05,0.1,0.25,0.2,0.25,0.45,0.2,-0.1,-2.0,-1.5,-1.75],
  [-1.8,-2.0,-4.1,-3.6,-3.5,-3.1,-3.75,-3.55,-2.15,-1.8,-1.65,-1.0],
  [-0.6,-0.85,-1.0,-0.85,-1.1,-0.55,-0.6,-0.3,-0.15,-0.25,-0.45,0.4],
  [0.55,0.6,0.45,0.55,0.45,0.35,0.2,0.35,0.05,-0.45,-0.3,0.5],
  [0.2,-0.6,-1.0,-1.15,-1.2,-0.8,-0.65,-0.3,-0.2,0.45,1.3,0.35],
  [0.75,0.25,0.05,-0.05,-0.1,-0.2,-0.5,-0.75,-0.45,-0.2,-0.15,-0.1],
  [-0.2,-0.35,-0.5,-0.25,-0.3,-0.35,-0.45,-0.5,-0.35,-0.65,-1.4,2.2],
  [2.15,1.75,1.3,1.15,1.2,0.05,-0.65,0.05,0.25,0.95,0.3,0.1],
  [0.05,-0.25,-0.35,-0.3,-0.35,-0.1,0.05,0.1,0.35,1.05,1.2,0.6],
  [0.45,0.35,1.15,1.1,1.15,1.0,1.3,1.4,1.6,0.4,0.05,-1.0],
  [-1.55,0.25,0.1,0.05,-0.1,0.1,0.1,-0.35,-0.65,-0.8,-0.75,-0.35],
  [0.05,0.05,0.8,0.9,0.95,1.05,1.2,1.3,0.65,0.05,-0.55,0.45],
  [0.3,0.05,0.85,1.2,1.75,1.8,1.85,2.25,2.8,2.9,1.35,0.5],
  [0.15,0.05,0.05,-0.2,-0.2,0.05,-0.2,0.05,0.05,0.7,1.45,0.8],
  [0.5,1.0,1.7,1.4,0.75,1.3,1.45,1.45,0.95,1.35,1.95,1.5],
  [1.35,0.05,-0.4,-1.25,-1.3,-1.45,-1.65,-1.85,-1.05,-0.45,-1.0,-1.2],
  [-1.5,-1.85,-2.75,-2.2,-2.15,-1.95,-1.45,-1.1,-0.7,-0.55,0.05,0.95],
  [-0.25,-0.35,-0.2,-0.5,-0.25,-0.1,0.05,0.15,0.2,0.6,0.6,-0.1],
  [0.85,0.25,0.05,-0.1,-0.45,-0.45,-0.75,-0.2,0.05,0.5,0.75,2.0],
  [1.6,1.05,0.7,0.35,0.05,-0.3,-1.0,-0.95,-1.25,-1.45,-1.8,-2.0],
  [-1.45,-1.2,-1.8,-1.75,-1.6,-1.3,-1.05,-1.0,-0.75,-0.55,-0.3,-1.3],
  [-0.55,-0.45,0.05,0.5,0.4,0.55,0.6,0.7,0.05,-0.65,-0.95,0.05],
  [0.7,1.35,1.7,1.55,1.4,1.45,1.05,1.0,0.8,0.9,0.65,0.05],
  [0.1,0.25,0.65,0.7,0.75,0.8,0.85,0.55,0.35,0.85,1.0,1.0],
];

const spi12Cordeiros = [
  [0,0,0,0,0,0,0,0,0,0,0,-0.4],
  [-0.25,0.05,0.3,0.3,0.25,0.3,0.28,0.3,0.35,0.38,0.35,0.25],
  [-0.15,0.55,0.7,0.6,0.6,0.6,0.62,0.62,0.62,0.55,0.7,0.75],
  [0.7,0.3,0.05,-0.3,0.05,0.02,0.02,-0.02,-0.05,-0.05,-0.1,-0.3],
  [-0.3,-1.55,-2.0,-2.9,-3.7,-3.8,-3.8,-3.15,-2.95,-3.0,-3.1,-3.05],
  [-2.9,-2.35,-1.6,-1.75,-0.85,-0.8,-0.7,-0.7,-0.7,-0.7,-0.55,-0.05],
  [0.05,0.15,0.55,0.3,0.2,0.25,0.3,0.25,0.3,0.3,0.25,0.1],
  [-0.05,-0.35,-1.3,-1.25,-0.8,-0.75,-0.7,-0.75,-0.7,-0.65,-0.85,-0.35],
  [0.15,0.15,0.1,0.15,-0.15,-0.15,-0.15,-0.2,-0.15,-0.2,-0.3,-0.5],
  [-0.65,-0.55,-0.7,-0.45,-0.5,-0.45,-0.55,-0.5,-0.55,-0.55,-0.6,-0.55],
  [1.2,1.15,1.1,0.95,0.95,1.1,1.1,1.1,1.1,1.05,1.1,0.05],
  [0.02,-0.8,-0.2,-0.15,-0.05,-0.15,-0.1,-0.1,-0.1,-0.05,0.1,0.25],
  [0.1,0.15,1.15,1.2,1.18,1.1,1.1,1.1,1.05,1.1,0.85,0.85],
  [1.2,0.15,0.05,0.02,-0.3,-0.25,-0.3,-0.25,-0.3,-0.3,-0.4,-0.6],
  [0.1,0.25,0.55,0.8,0.8,0.8,0.8,0.8,0.8,0.8,0.85,1.05],
  [0.25,0.45,1.25,1.6,1.75,1.8,1.8,1.75,1.75,1.75,1.85,1.8],
  [1.9,1.3,0.3,0.15,0.05,0.02,-0.05,-0.1,0.05,0.1,0.15,0.2],
  [0.3,0.9,1.25,1.65,1.55,1.5,1.55,1.6,1.55,1.6,1.4,0.05],
  [0.02,0.02,0.02,-0.6,-0.7,-0.9,-0.95,-1.3,-1.35,-1.5,-1.9,-1.95],
  [-2.1,-2.6,-2.35,-2.4,-2.25,-2.05,-1.9,-1.85,-1.8,-1.75,-1.2,-1.15],
  [-0.95,-0.75,-0.3,-0.3,-0.25,-0.3,-0.25,-0.2,-0.15,-0.05,-0.3,-0.35],
  [0.4,0.15,0.05,-0.3,-0.35,-0.05,-0.1,-0.15,-0.25,-0.3,0.25,0.75],
  [0.3,0.25,0.3,0.35,0.35,0.3,0.05,0.02,0.02,0.02,-0.6,-1.35],
  [-1.5,-2.0,-2.45,-2.1,-1.9,-1.75,-1.7,-1.7,-1.65,-1.75,-1.6,-1.2],
  [-0.9,0.05,0.15,0.25,0.2,0.15,0.15,0.15,0.15,0.2,0.5,0.8],
  [1.5,1.35,1.3,1.4,1.4,1.45,1.45,1.4,1.4,1.3,1.3,1.25],
  [0.85,0.9,0.85,0.85,0.75,0.85,0.65,0.6,0.6,0.85,0.9,0.95],
];

// y-axis tick sets
const ticksM3P3 = [-3, -2, -1, 0, 1, 2, 3];
const ticksM4P3 = [-4, -3, -2, -1, 0, 1, 2, 3];
const ticksM5P3 = [-5, -4, -3, -2, -1, 0, 1, 2, 3];
const ticksM5P4 = [-5, -4, -3, -2, -1, 0, 1, 2, 3, 4];

// months where vertical gridlines fall (every 5 years)
const gridMonths = [0, 60, 120, 180, 240, 300];

const FONT = '"Liberation Sans", Arial, Helvetica, sans-serif';
const TEXT = "#595959";
const GRID = "#d9d9d9";
const POS = "#8FAADC";
const NEG = "#FF0000";

type Panel = {
  title: string[];
  rows: number[][];
  ticks: number[];
  box: [number, number, number, number];
  plot: [number, number, number, number];
  titleAt: [number, number][];
  spiAt: [number, number];
  xTitleAt: [number, number];
};

const panels: Panel[] = [
  { title: ["SPI-1 para São José de Piranhas-PB"], rows: spi1Piranhas, ticks: ticksM3P3, box: [8, 8, 509, 339], plot: [96.7, 53.3, 501, 257.7], titleAt: [[293.8, 24.5]], spiAt: [25, 155], xTitleAt: [274.7, 328] },
  { title: ["SPI-3 para São José de Piranhas-PB"], rows: spi3Piranhas, ticks: ticksM4P3, box: [532, 8, 508, 339], plot: [618.7, 55, 1024, 257.7], titleAt: [[824.2, 25]], spiAt: [548, 156], xTitleAt: [814, 330] },
  { title: ["SPI-6 para São José de Piranhas-PB"], rows: spi6Piranhas, ticks: ticksM3P3, box: [1054, 8, 509, 339], plot: [1141.7, 56, 1546.7, 257.7], titleAt: [[1331.7, 25]], spiAt: [1070.7, 157.5], xTitleAt: [1326.3, 330] },
  { title: ["SPI-12 para São José de Piranhas-PB"], rows: spi12Piranhas, ticks: ticksM3P3, box: [1577, 8, 509, 339], plot: [1665.3, 55, 2074.7, 257.7], titleAt: [[1867, 25]], spiAt: [1593.7, 156.3], xTitleAt: [1867, 331] },
  { title: ["SPI-1 para São José do Sabugi-PB"], rows: spi1Sabugi, ticks: ticksM4P3, box: [8, 384, 509, 338], plot: [96, 429, 501, 633.3], titleAt: [[288.8, 400.8]], spiAt: [25, 531.3], xTitleAt: [280, 705] },
  { title: ["SPI-3 para São José do Sabugi-PB"], rows: spi3Sabugi, ticks: ticksM4P3, box: [532, 384, 508, 338], plot: [618.7, 431, 1024, 633.3], titleAt: [[818.3, 400.8]], spiAt: [548, 532.5], xTitleAt: [806.3, 706.7] },
  { title: ["SPI-6 para São José do Sabugi-PB"], rows: spi6Sabugi, ticks: ticksM4P3, box: [1054, 384, 509, 338], plot: [1141.7, 431.7, 1546.7, 633.3], titleAt: [[1332.2, 400.8]], spiAt: [1070.7, 533.3], xTitleAt: [1326.3, 706.7] },
  { title: ["SPI-12 para São José do Sabugi-PB"], rows: spi12Sabugi, ticks: ticksM5P3, box: [1577, 384, 509, 338], plot: [1665.3, 431, 2074.7, 633.3], titleAt: [[1858.7, 402]], spiAt: [1593.7, 531.7], xTitleAt: [1877.8, 707.7] },
  { title: ["SPI-1 para São José dos Cordeiros-PB"], rows: spi1Cordeiros, ticks: ticksM3P3, box: [8, 760, 509, 339], plot: [96, 806, 501, 1010], titleAt: [[270.3, 777.5]], spiAt: [25, 907.5], xTitleAt: [290, 1081.7] },
  { title: ["SPI-3 para São José dos Cordeiros-PB"], rows: spi3Cordeiros, ticks: ticksM5P4, box: [532, 760, 508, 339], plot: [618.7, 806.7, 1024, 1010], titleAt: [[814, 777.5]], spiAt: [548, 908.3], xTitleAt: [811.3, 1082.3] },
  { title: ["SPI-6 para São José dos Cordeiros-PB"], rows: spi6Cordeiros, ticks: ticksM5P4, box: [1054, 760, 509, 339], plot: [1141.7, 807.7, 1546.7, 1010], titleAt: [[1324.3, 777.5]], spiAt: [1070.7, 909.2], xTitleAt: [1341.7, 1082.3] },
  { title: ["SPI-12 para São José dos Cordeiros-", "PB"], rows: spi12Cordeiros, ticks: ticksM5P3, box: [1577, 760, 509, 339], plot: [1665.3, 815, 2074.7, 1010], titleAt: [[1873.3, 778.3], [1872.7, 801.7]], spiAt: [1593.7, 912.5], xTitleAt: [1896.2, 1083.3] },
];

function toData(rows: number[][]) {
  const out: { month: string; pos: number; neg: number }[] = [];
  years.forEach((yr, yi) => {
    const row = rows[yi] || [];
    for (let m = 0; m < 12; m++) {
      const v = row[m] ?? 0;
      out.push({ month: `${yr}-${m + 1}`, pos: v > 0 ? v : 0, neg: v < 0 ? v : 0 });
    }
  });
  return out;
}

const fmt = (v: number) => v.toFixed(2).replace(".", ",");

const YearTick = (props: any) => {
  const { x, y, payload } = props;
  const year = String(payload.value).split("-")[0];
  return (
    <text
      transform={`translate(${x},${y}) rotate(-90)`}
      textAnchor="end"
      dy="0.35em"
      fill={TEXT}
      fontSize={17.5}
      fontWeight={700}
      fontFamily={FONT}
    >
      {year}
    </text>
  );
};

const barShape = (color: string, crisp: boolean) => (props: any) => {
  const { x, y, width, height } = props;
  if (!height || !width) return <g />;
  const yy = Math.min(y, y + height);
  const xx = Math.min(x, x + width);
  return (
    <rect
      x={xx}
      y={yy}
      width={Math.abs(width)}
      height={Math.abs(height)}
      fill={color}
      shapeRendering={crisp ? "crispEdges" : undefined}
    />
  );
};

const posShape = barShape(POS, false);
const negShape = barShape(NEG, true);

function Label({ at, text, rotate, size = 21 }: { at: [number, number]; text: string; rotate?: boolean; size?: number }) {
  return (
    <div
      style={{
        position: "absolute",
        left: at[0],
        top: at[1],
        transform: `translate(-50%, -50%)${rotate ? " rotate(-90deg)" : ""}`,
        whiteSpace: "nowrap",
        fontFamily: FONT,
        fontWeight: 700,
        fontSize: size,
        lineHeight: 1,
        color: TEXT,
      }}
    >
      {text}
    </div>
  );
}

function SpiPanel({ p }: { p: Panel }) {
  const [bx, by, bw, bh] = p.box;
  const [px0, py0, px1, py1] = p.plot;
  const yAxisW = 60;
  const xAxisH = 60;
  const margin = {
    left: px0 - bx - yAxisW,
    top: py0 - by,
    right: bx + bw - px1,
    bottom: by + bh - py1 - xAxisH,
  };
  const data = toData(p.rows);
  const total = data.length;
  const domain = [p.ticks[0], p.ticks[p.ticks.length - 1]];
  const plotLeft = px0 - bx;
  const plotW = px1 - px0;

  return (
    <>
      <div
        style={{
          position: "absolute",
          left: bx,
          top: by,
          width: bw,
          height: bh,
          boxSizing: "border-box",
          border: `2px solid ${GRID}`,
          background: "#fff",
        }}
      />
      <div style={{ position: "absolute", left: bx, top: by, width: bw, height: bh }}>
        <BarChart
          width={bw}
          height={bh}
          data={data}
          margin={margin}
          barCategoryGap={0}
          barGap={0}
          stackOffset="sign"
        >
          <CartesianGrid
            stroke={GRID}
            strokeWidth={2}
            verticalCoordinatesGenerator={(args: any) => {
              const left = args?.offset?.left ?? plotLeft;
              const w = args?.offset?.width ?? plotW;
              return gridMonths.map((m) => left + (m / total) * w);
            }}
          />
          <XAxis
            dataKey="month"
            interval={17}
            tick={(props: any) => <YearTick {...props} />}
            axisLine={false}
            tickLine={false}
            tickSize={0}
            tickMargin={14}
            height={xAxisH}
          />
          <YAxis
            type="number"
            domain={domain}
            ticks={p.ticks}
            interval={0}
            allowDataOverflow
            width={yAxisW}
            axisLine={false}
            tickLine={false}
            tickSize={0}
            tickMargin={16}
            tickFormatter={fmt}
            tick={{ fill: TEXT, fontSize: 18, fontWeight: 700, fontFamily: FONT }}
          />
          <Bar dataKey="pos" stackId="s" fill={POS} shape={posShape} isAnimationActive={false} />
          <Bar dataKey="neg" stackId="s" fill={NEG} shape={negShape} isAnimationActive={false} />
        </BarChart>
      </div>
      {p.title.map((t, i) => (
        <Label key={i} at={p.titleAt[i]} text={t} />
      ))}
      <Label at={p.spiAt} text="SPI" rotate />
      <Label at={p.xTitleAt} text="Tempo (em anos)" />
    </>
  );
}

export default function App() {
  return (
    <div
      style={{
        position: "absolute",
        left: 0,
        top: 0,
        width: 2080,
        height: 1095,
        overflow: "hidden",
        background: "#fff",
      }}
    >
      {panels.map((p, i) => (
        <SpiPanel key={i} p={p} />
      ))}
    </div>
  );
}
